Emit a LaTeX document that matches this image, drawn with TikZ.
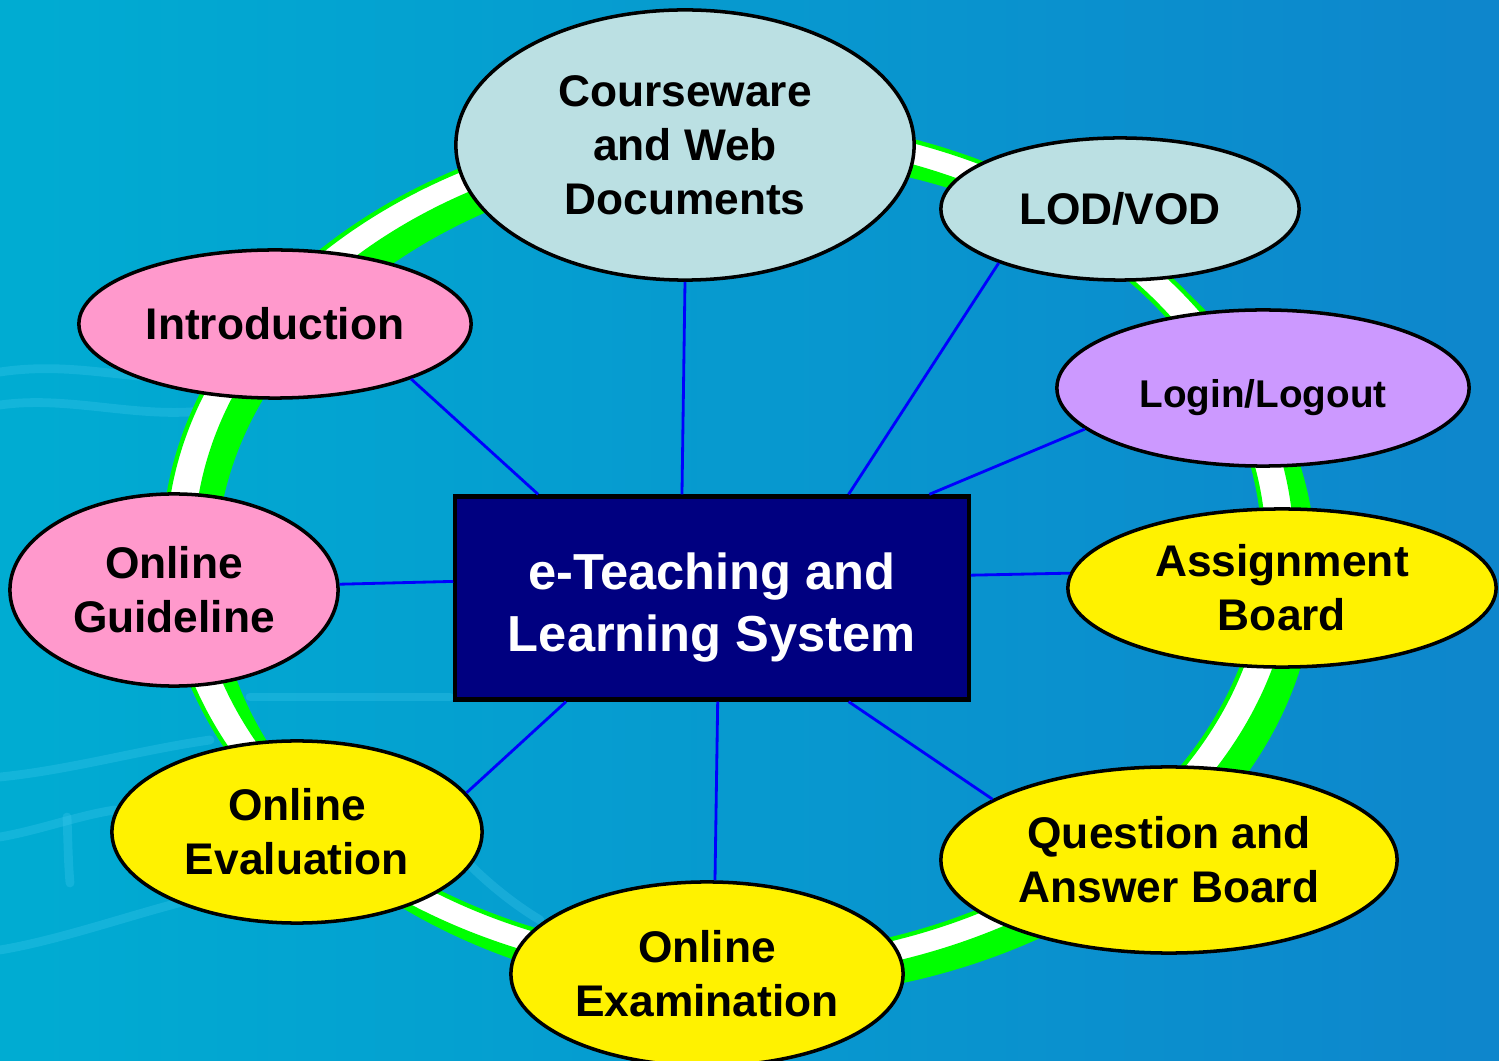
\documentclass[tikz,border=0pt]{standalone}
\usepackage{fontspec}
\setmainfont{Liberation Sans}
\usetikzlibrary{shapes.geometric,calc}
\definecolor{bgl}{RGB}{0,172,210}
\definecolor{bgm}{RGB}{2,164,210}
\definecolor{bgr}{RGB}{14,134,204}
\definecolor{streak}{RGB}{70,205,240}
\definecolor{ringgreen}{RGB}{0,255,0}
\definecolor{paleblue}{RGB}{187,224,227}
\definecolor{rosepink}{RGB}{255,153,204}
\definecolor{lilac}{RGB}{204,153,255}
\definecolor{darknavy}{RGB}{0,0,128}
\definecolor{linkblue}{RGB}{0,0,255}
\begin{document}
\begin{tikzpicture}[x=0.01cm,y=-0.01cm,
    topic/.style={ellipse,draw=black,line width=1pt,inner sep=0pt,align=center,
      font=\bfseries\fontsize{12.6}{15.4}\selectfont},
    link/.style={draw=linkblue,line width=0.8pt},
    wave/.style={streak,opacity=0.28,line width=2.5pt,line cap=round}]
        \clip (0,0) rectangle (1499,1061);
        \shade[left color=bgl,middle color=bgm,right color=bgr] (0,0) rectangle (1499,1061);

        \draw[wave] (0,372) .. controls (80,360) and (140,385) .. (200,375);
        \draw[wave] (0,405) .. controls (70,395) and (140,420) .. (210,410);
        \draw[wave] (0,777) .. controls (70,770) and (140,750) .. (210,740);
        \draw[wave] (0,837) .. controls (40,830) and (80,815) .. (115,810);
        \draw[wave] (0,950) .. controls (60,940) and (130,915) .. (190,900);
        \draw[wave] (67,817) .. controls (68,840) and (68,860) .. (70,883);
        \draw[wave] (250,697) -- (450,697);
        \draw[wave] (470,865) .. controls (490,885) and (515,905) .. (540,920);

        \fill[ringgreen,even odd rule,shift={(20,17)}] (730,550) ellipse [x radius=566,y radius=432]
          (730,550) ellipse [x radius=534,y radius=408];
        \filldraw[fill=white,draw=ringgreen,line width=1.2pt,even odd rule] (730,550) ellipse [x radius=566,y radius=432]
          (730,550) ellipse [x radius=534,y radius=408];

        \node[topic,fill=paleblue,minimum width=4.58cm,minimum height=2.70cm] (C) at (685,145) {Courseware\\and Web\\Documents};
        \node[topic,fill=paleblue,minimum width=3.58cm,minimum height=1.42cm] (V) at (1120,209) {LOD/VOD};
        \node[topic,fill=rosepink,minimum width=3.92cm,minimum height=1.48cm] (I) at (275,324) {Introduction};
        \node[topic,fill=lilac,minimum width=4.12cm,minimum height=1.56cm,font=\bfseries\fontsize{11}{13}\selectfont] (L) at (1263,388) {\rule{0pt}{0.48cm}Login/Logout};
        \node[topic,fill=rosepink,minimum width=3.28cm,minimum height=1.92cm] (G) at (174,590) {Online\\Guideline};
        \node[topic,fill=yellow,minimum width=4.28cm,minimum height=1.58cm] (A) at (1282,588) {Assignment\\Board};
        \node[topic,fill=yellow,minimum width=3.70cm,minimum height=1.82cm] (E) at (297,832) {Online\\Evaluation};
        \node[topic,fill=yellow,minimum width=4.56cm,minimum height=1.86cm] (Q) at (1169,860) {Question and\\Answer Board};
        \node[topic,fill=yellow,minimum width=3.92cm,minimum height=1.84cm] (X) at (707,974) {Online\\Examination};

        \node[draw=black,line width=1.2pt,fill=darknavy,text=white,align=center,inner sep=0pt,
          minimum width=5.13cm,minimum height=2.03cm,font=\bfseries\fontsize{14.4}{17.6}\selectfont] (S) at (712,598) {\rule{0pt}{0.56cm}e-Teaching and\\Learning System};

        \draw[link] (C.south) -- ($(S.north west)!0.442!(S.north east)$);
        \draw[link] (V.204) -- ($(S.north west)!0.764!(S.north east)$);
        \draw[link] (I.338) -- ($(S.north west)!0.164!(S.north east)$);
        \draw[link] (L.193) -- ($(S.north west)!0.920!(S.north east)$);
        \draw[link] (G.2) -- ($(S.north west)!0.42!(S.south west)$);
        \draw[link] (A.176) -- ($(S.north east)!0.39!(S.south east)$);
        \draw[link] (E.13) -- ($(S.south west)!0.218!(S.south east)$);
        \draw[link] ($(X.north)+(8,0)$) -- ($(S.south west)!0.511!(S.south east)$);
        \draw[link] (Q.161) -- ($(S.south west)!0.764!(S.south east)$);
\end{tikzpicture}
\end{document}
